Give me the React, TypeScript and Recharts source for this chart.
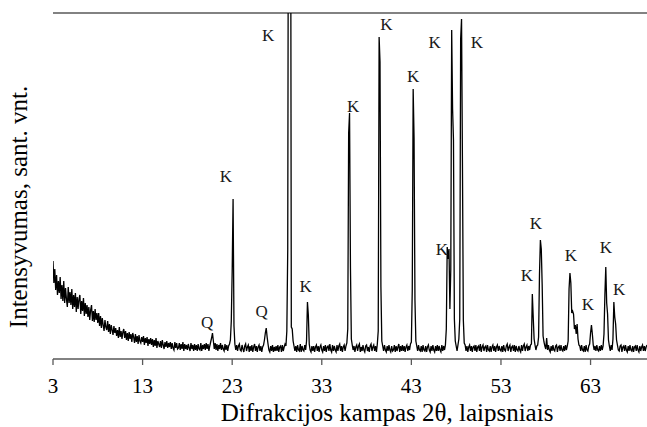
import {
  ComposedChart,
  Line,
  ReferenceDot,
  ReferenceLine,
  XAxis,
  YAxis,
} from "recharts";

// scan start / step (2θ, degrees)
const START_ANGLE = 3;
const STEP = 0.1;

// counts per 0.1° step, one row per degree
const scan03to12 = [
  980, 760, 900, 690, 840, 640, 780, 660, 820, 600,
  740, 580, 780, 560, 710, 600, 520, 720, 560, 670,
  540, 700, 500, 640, 520, 660, 470, 620, 500, 600,
  640, 450, 580, 480, 610, 430, 560, 450, 540, 420,
  520, 390, 490, 540, 380, 480, 370, 500, 390, 460,
  360, 460, 330, 430, 310, 410, 340, 280, 390, 320,
  290, 380, 270, 350, 250, 340, 290, 240, 330, 260,
  310, 230, 290, 210, 320, 220, 280, 200, 270, 300,
  210, 280, 190, 260, 180, 270, 200, 250, 170, 260,
  220, 160, 250, 170, 230, 150, 240, 180, 160, 220,
];

const scan13to22 = [
  170, 230, 140, 210, 160, 220, 130, 200, 150, 210,
  140, 200, 120, 190, 130, 210, 110, 180, 150, 120,
  180, 110, 190, 140, 100, 170, 120, 180, 110, 160,
  120, 170, 100, 160, 110, 90, 170, 110, 160, 100,
  110, 160, 90, 150, 100, 170, 80, 150, 100, 140,
  90, 150, 110, 80, 160, 100, 140, 80, 150, 90,
  140, 80, 150, 100, 90, 160, 80, 140, 100, 150,
  90, 160, 100, 150, 80, 130, 170, 210, 260, 180,
  100, 160, 90, 150, 80, 140, 100, 160, 90, 140,
  100, 80, 150, 90, 140, 80, 130, 150, 190, 380,
];

const scan23to32 = [
  880, 1600, 330, 150, 90, 140, 80, 130, 150, 90,
  80, 140, 100, 70, 130, 150, 80, 120, 140, 70,
  130, 80, 140, 70, 120, 150, 80, 130, 70, 120,
  140, 80, 130, 70, 120, 140, 190, 260, 310, 220,
  150, 90, 70, 130, 80, 140, 70, 120, 80, 130,
  80, 140, 70, 120, 130, 70, 140, 80, 120, 150,
  130, 280, 1090, 6500, 6500, 6500, 320, 300, 180, 130,
  80, 130, 70, 140, 90, 80, 150, 70, 130, 90,
  80, 140, 90, 180, 570, 440, 150, 90, 70, 130,
  80, 130, 70, 120, 140, 80, 130, 70, 120, 140,
];

const scan33to42 = [
  90, 70, 130, 80, 140, 70, 120, 130, 80, 150,
  90, 70, 140, 80, 130, 90, 70, 140, 80, 130,
  150, 80, 130, 70, 120, 140, 80, 130, 160, 300,
  2260, 2460, 920, 200, 140, 90, 130, 70, 120, 140,
  80, 130, 150, 70, 120, 80, 140, 90, 70, 130,
  140, 80, 120, 70, 130, 150, 80, 120, 140, 80,
  130, 70, 150, 280, 3220, 2970, 720, 180, 130, 80,
  140, 90, 70, 130, 80, 140, 90, 70, 130, 80,
  90, 140, 70, 130, 80, 120, 150, 70, 130, 80,
  140, 80, 130, 70, 120, 140, 80, 130, 90, 150,
];

const scan43to52 = [
  170, 690, 2700, 2210, 590, 180, 130, 80, 140, 90,
  80, 130, 70, 140, 90, 80, 130, 70, 120, 140,
  90, 70, 130, 80, 140, 90, 70, 130, 80, 140,
  80, 130, 90, 70, 140, 80, 130, 90, 140, 300,
  1120, 1000, 1100, 500, 900, 3290, 2500, 2190, 400, 180,
  130, 80, 140, 200, 400, 3200, 3400, 1970, 390, 160,
  140, 80, 130, 70, 120, 140, 80, 130, 70, 120,
  130, 80, 140, 70, 120, 130, 80, 150, 70, 120,
  140, 80, 120, 130, 70, 140, 90, 80, 130, 70,
  120, 140, 80, 130, 70, 120, 140, 80, 130, 90,
];

const scan53to62 = [
  80, 130, 70, 140, 90, 80, 130, 150, 80, 120,
  140, 70, 120, 130, 80, 140, 70, 130, 90, 80,
  130, 90, 70, 140, 80, 130, 150, 80, 120, 140,
  80, 130, 90, 140, 150, 650, 420, 200, 140, 90,
  130, 140, 220, 850, 1190, 1100, 740, 230, 170, 130,
  100, 210, 90, 140, 90, 70, 130, 80, 140, 90,
  80, 130, 140, 70, 120, 130, 80, 140, 90, 80,
  130, 80, 140, 90, 130, 180, 700, 860, 760, 460,
  480, 450, 300, 340, 250, 350, 200, 140, 130, 80,
  140, 90, 80, 130, 70, 140, 90, 80, 130, 150,
];

const scan63to69 = [
  260, 340, 250, 140, 90, 130, 80, 140, 90, 80,
  130, 80, 140, 90, 130, 250, 640, 920, 560, 450,
  190, 130, 80, 140, 90, 200, 570, 420, 350, 190,
  140, 90, 80, 130, 140, 70, 120, 130, 80, 140,
  90, 70, 130, 80, 140, 90, 80, 130, 70, 120,
  130, 80, 140, 90, 70, 130, 80, 120, 140, 80,
  130, 80, 120, 140,
];

const angleTicks = [3, 13, 23, 33, 43, 53, 63];

// phase marks: K - kalcitas, Q - kvarcas
const phaseLabels = [
  { angle: 20.2, counts: 370, phase: "Q" },
  { angle: 22.3, counts: 1830, phase: "K" },
  { angle: 26.3, counts: 480, phase: "Q" },
  { angle: 27.0, counts: 3240, phase: "K" },
  { angle: 31.2, counts: 730, phase: "K" },
  { angle: 36.5, counts: 2530, phase: "K" },
  { angle: 40.2, counts: 3350, phase: "K" },
  { angle: 43.2, counts: 2830, phase: "K" },
  { angle: 45.6, counts: 3170, phase: "K" },
  { angle: 46.4, counts: 1100, phase: "K" },
  { angle: 50.3, counts: 3170, phase: "K" },
  { angle: 55.9, counts: 840, phase: "K" },
  { angle: 56.9, counts: 1360, phase: "K" },
  { angle: 60.8, counts: 1040, phase: "K" },
  { angle: 62.7, counts: 550, phase: "K" },
  { angle: 64.7, counts: 1120, phase: "K" },
  { angle: 66.2, counts: 700, phase: "K" },
];

const counts = [
  ...scan03to12,
  ...scan13to22,
  ...scan23to32,
  ...scan33to42,
  ...scan43to52,
  ...scan53to62,
  ...scan63to69,
];

const data = counts.map((c, i) => ({
  angle: +(START_ANGLE + i * STEP).toFixed(1),
  counts: c,
}));

const FONT = '"Liberation Serif", "Times New Roman", Times, serif';
const FRAME = "#595959";
const Y_MAX = 3460;

// both axis titles; drawn from the x-axis label slot
function AxisTitles(props: any) {
  const vb = props.viewBox;
  const yx = 27;
  const yy = 207;
  return (
    <g>
      <text
        x={vb.x + 334}
        y={vb.y + 62}
        textAnchor="middle"
        fontSize={25}
        style={{ fontFamily: FONT }}
        fill="#000"
      >
        Difrakcijos kampas 2θ, laipsniais
      </text>
      <text
        x={yx}
        y={yy}
        transform={`rotate(-90, ${yx}, ${yy})`}
        textAnchor="middle"
        fontSize={25}
        style={{ fontFamily: FONT }}
        fill="#000"
      >
        Intensyvumas, sant. vnt.
      </text>
    </g>
  );
}

export default function App() {
  return (
    <div
      style={{
        position: "absolute",
        left: 0,
        top: 0,
        width: 647,
        height: 427,
        background: "#fff",
        fontFamily: FONT,
      }}
    >
      <ComposedChart
        width={647}
        height={427}
        data={data}
        margin={{ top: 13, right: 0, bottom: 0, left: 53 }}
        style={{ fontFamily: FONT }}
      >
        <XAxis
          dataKey="angle"
          type="number"
          domain={[3, 69.3]}
          ticks={angleTicks}
          allowDataOverflow
          height={68}
          stroke={FRAME}
          strokeWidth={1.3}
          tickSize={6}
          tickMargin={13}
          tick={{ fill: "#000", fontSize: 21, fontFamily: FONT }}
          label={(props: any) => <AxisTitles {...props} />}
        />
        <YAxis
          type="number"
          domain={[0, Y_MAX]}
          allowDataOverflow
          width={0}
          tick={false}
          tickLine={false}
          stroke={FRAME}
          strokeWidth={1.3}
        />
        <ReferenceLine y={Y_MAX} stroke={FRAME} strokeWidth={1.3} />
        <Line
          type="linear"
          dataKey="counts"
          stroke="#000"
          strokeWidth={1.3}
          dot={false}
          activeDot={false}
          isAnimationActive={false}
        />
        {phaseLabels.map((p, i) => (
          <ReferenceDot
            key={i}
            x={p.angle}
            y={p.counts}
            r={0}
            shape={(props: any) => (
              <text
                x={props.cx}
                y={props.cy}
                textAnchor="middle"
                dominantBaseline="central"
                fontSize={17}
                style={{ fontFamily: FONT }}
                fill="#1a1a1a"
              >
                {p.phase}
              </text>
            )}
          />
        ))}
      </ComposedChart>
    </div>
  );
}
